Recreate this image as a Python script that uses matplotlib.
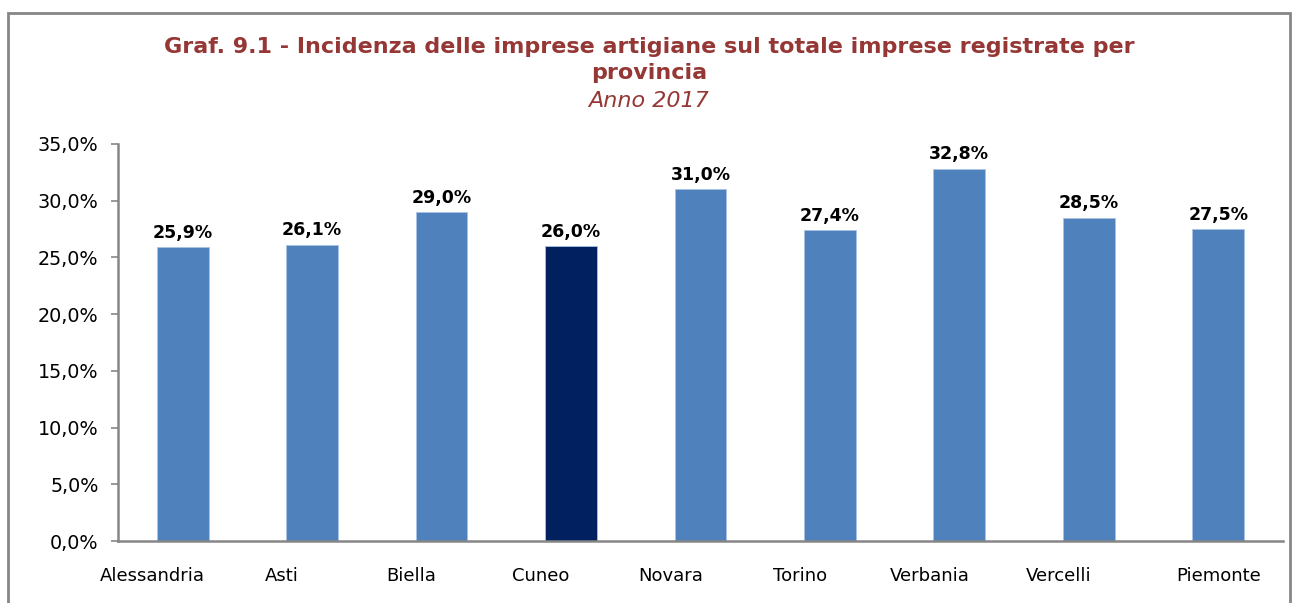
import numpy as np
import matplotlib.pyplot as plt
from matplotlib.patches import Rectangle
from matplotlib.ticker import MultipleLocator, FuncFormatter
from matplotlib.transforms import ScaledTranslation

# data
province = ['Alessandria', 'Asti', 'Biella', 'Cuneo', 'Novara',
            'Torino', 'Verbania', 'Vercelli', 'Piemonte']
incidenza = [25.9, 26.1, 29.0, 26.0, 31.0, 27.4, 32.8, 28.5, 27.5]

blue = '#4F81BD'
navy = '#002060'
red = '#953735'
gray = '#868686'
colors = [navy if p == 'Cuneo' else blue for p in province]

fig = plt.figure(figsize=(12.98, 6.03), dpi=100)
ax = fig.add_axes([0.0909, 0.1028, 0.8975, 0.6584])

x = np.arange(len(province))
bars = ax.bar(x, incidenza, width=0.40, color=colors, edgecolor='#A9C3E6', linewidth=0.6)

for xi, v in zip(x, incidenza):
    ax.annotate('{:.1f}%'.format(v).replace('.', ','), (xi, v),
                xytext=(0, 4), textcoords='offset points',
                ha='center', va='bottom', fontsize=12.5, fontweight='bold')

ax.set_xlim(-0.5, len(province) - 0.5)
ax.set_ylim(0, 35)
ax.yaxis.set_major_locator(MultipleLocator(5))
ax.yaxis.set_major_formatter(FuncFormatter(lambda v, p: '{:.1f}%'.format(v).replace('.', ',')))

ax.set_xticks(x)
ax.set_xticklabels(province)
ax.tick_params(axis='x', length=0, pad=19, labelsize=13)
ax.tick_params(axis='y', length=5, width=1.2, color=gray, labelsize=13.8, pad=9)

# excel label offset: all but last shifted left
for i, lab in enumerate(ax.get_xticklabels()):
    if i < len(province) - 1:
        lab.set_transform(lab.get_transform() + ScaledTranslation(-30 / 100, 0, fig.dpi_scale_trans))

for s in ['top', 'right']:
    ax.spines[s].set_visible(False)
for s in ['left', 'bottom']:
    ax.spines[s].set_color(gray)
    ax.spines[s].set_linewidth(1.8)

# title
fig.text(0.5, 0.922, 'Graf. 9.1 - Incidenza delle imprese artigiane sul totale imprese registrate per',
         ha='center', va='center', fontsize=16, fontweight='bold', color=red)
fig.text(0.5, 0.879, 'provincia', ha='center', va='center', fontsize=16, fontweight='bold', color=red)
fig.text(0.5, 0.832, 'Anno 2017', ha='center', va='center', fontsize=16, style='italic', color=red)

# chart frame
fig.patches.append(Rectangle((8 / 1298, -0.05), (1290 - 8) / 1298, 0.05 + (603 - 13) / 603,
                             transform=fig.transFigure, fill=False, edgecolor=gray, linewidth=2))

fig.savefig('out.png', dpi=100)
